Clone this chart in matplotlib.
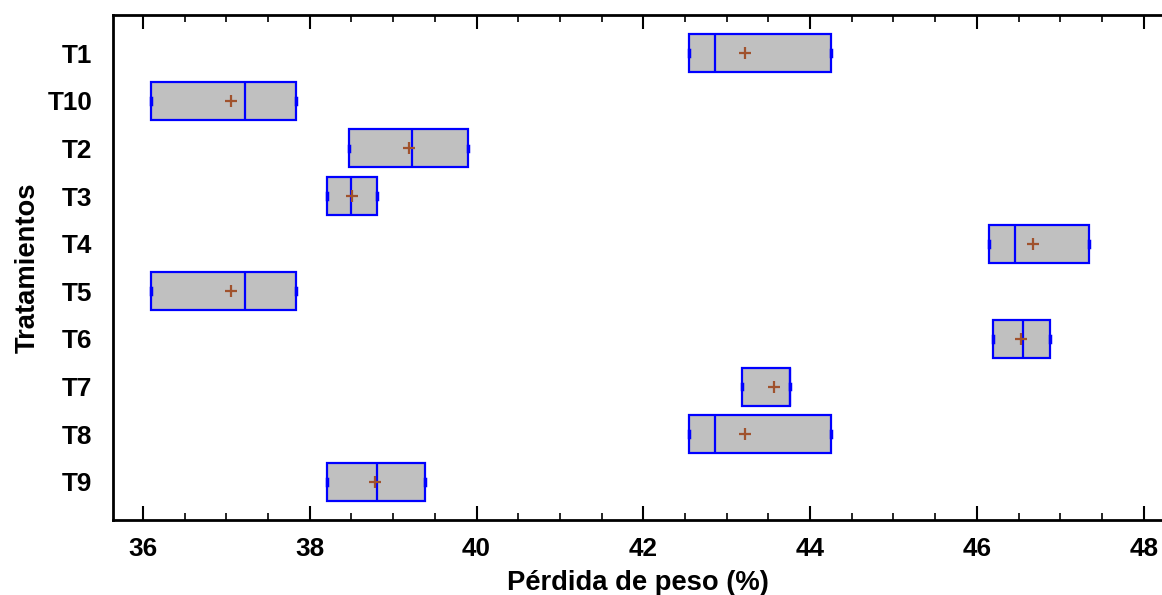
import numpy as np
import matplotlib
matplotlib.use('Agg')
import matplotlib.pyplot as plt
from matplotlib.ticker import MultipleLocator

plt.rcParams['font.family'] = ['Liberation Sans', 'DejaVu Sans']
plt.rcParams['font.weight'] = 'bold'

# pérdida de peso por tratamiento: mínimo, mediana, media, máximo
tratamientos = ['T1', 'T10', 'T2', 'T3', 'T4', 'T5', 'T6', 'T7', 'T8', 'T9']
minimo = [42.55, 36.09, 38.47, 38.21, 46.15, 36.09, 46.19, 43.18, 42.55, 38.21]
mediana = [42.86, 37.22, 39.23, 38.50, 46.46, 37.22, 46.55, 43.76, 42.86, 38.81]
media = [43.22, 37.06, 39.19, 38.51, 46.67, 37.06, 46.53, 43.57, 43.22, 38.78]
maximo = [44.25, 37.83, 39.90, 38.81, 47.35, 37.83, 46.88, 43.76, 44.25, 39.38]

stats = []
for i, t in enumerate(tratamientos):
    stats.append({'label': t, 'whislo': minimo[i], 'q1': minimo[i], 'med': mediana[i],
                  'mean': media[i], 'q3': maximo[i], 'whishi': maximo[i]})

fig = plt.figure(figsize=(11.62, 5.95), dpi=100)
ax = fig.add_axes([113 / 1162, 1 - 520 / 595, 1 - 113 / 1162, (520 - 15) / 595])

ax.bxp(stats, positions=np.arange(len(tratamientos)), orientation='horizontal',
       widths=0.8, patch_artist=True, showmeans=True, showfliers=False,
       capwidths=0.12,
       boxprops=dict(facecolor='#c0c0c0', edgecolor='#0000ff', linewidth=1.6),
       medianprops=dict(color='#0000ff', linewidth=1.6),
       whiskerprops=dict(color='#0000ff', linewidth=1.6),
       capprops=dict(color='#0000ff', linewidth=2.5),
       meanprops=dict(marker='+', markeredgecolor='#a0522d', markersize=9,
                      markeredgewidth=1.6))

ax.set_xlim(35.64, 48.22)
ax.set_ylim(9.8, -0.8)
ax.set_yticks(np.arange(len(tratamientos)))
ax.set_yticklabels(tratamientos)

ax.xaxis.set_major_locator(MultipleLocator(2))
ax.xaxis.set_minor_locator(MultipleLocator(0.5))
ax.tick_params(axis='x', which='major', direction='in', length=10, width=1.5,
               top=True, labelsize=18.8, pad=12)
ax.tick_params(axis='x', which='minor', direction='in', length=5, width=1.2, top=True)
ax.tick_params(axis='y', length=0, labelsize=18.8, pad=15)

for s in ['left', 'bottom', 'top']:
    ax.spines[s].set_linewidth(2)
ax.spines['right'].set_visible(False)

ax.set_xlabel('Pérdida de peso (%)', fontsize=19.7, fontweight='bold', labelpad=7)
ax.set_ylabel('Tratamientos', fontsize=19.7, fontweight='bold', labelpad=5)

fig.savefig('out.png', dpi=100)
